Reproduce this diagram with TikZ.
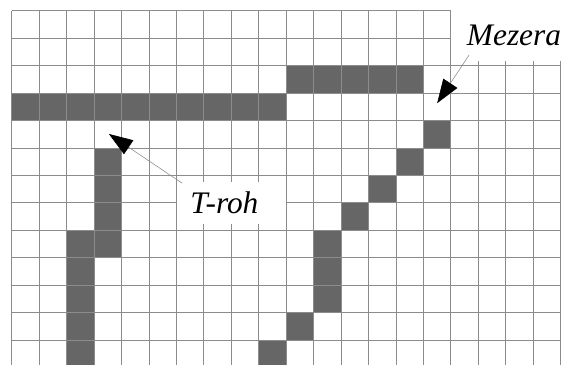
\documentclass[tikz,border=0pt]{standalone}
\usepackage{fontspec}
\newfontfamily\tagfont{Liberation Serif}
\usetikzlibrary{arrows.meta,positioning}

\begin{document}
\begin{tikzpicture}[
    cell/.style={fill=black!60},
    gridline/.style={draw=black!45, line width=0.8pt},
    tag/.style={fill=white, inner sep=0pt, font=\tagfont\itshape\fontsize{32.5}{36}\selectfont},
    pointer/.style={draw=black!45, line width=0.6pt, -{Triangle[length=8.7mm, width=6.1mm, color=black]}}
]
    \clip (-0.426,0.39) rectangle (20.085,-12.907);

    % filled cells
    \fill[cell] (0,-3) rectangle (10,-4);
    \fill[cell] (10,-2) rectangle (15,-3);
    \fill[cell] (3,-5) rectangle (4,-9);
    \fill[cell] (2,-8) rectangle (3,-13);
    \fill[cell] (11,-8) rectangle (12,-11);
    \foreach \c/\r in {15/4, 14/5, 13/6, 12/7, 10/11, 9/12}
        \fill[cell] (\c,-\r) rectangle ++(1,-1);

    \draw[gridline] (0,-13) grid (20,0);

    % labels
    \node[tag, minimum width=4.6cm, minimum height=1.9cm] (mezera) at (18.3,-0.885) {Mezera};
    \node[tag, minimum width=3.97cm, minimum height=1.55cm] (troh) at (8,-7) {\hspace*{-5mm}T-roh};

    \coordinate (gap) at (15.5,-3.37);
    \coordinate (stem) at (3.54,-4.49);

    \draw[pointer] ([shift={(0.67,0.225)}]mezera.south west) -- (gap);
    \draw[pointer] ([shift={(0.2,-0.065)}]troh.north west) -- (stem);
\end{tikzpicture}
\end{document}
